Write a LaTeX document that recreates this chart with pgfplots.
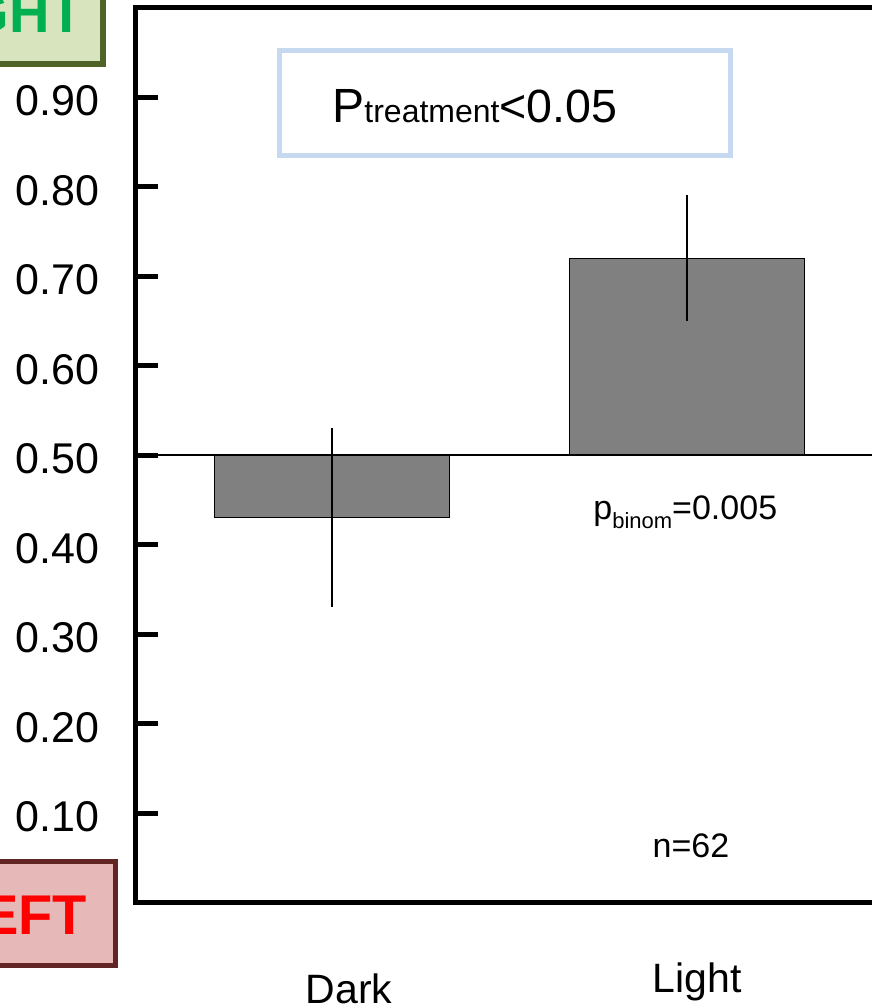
\documentclass[border=0pt]{standalone}
\usepackage{fontspec}
\setmainfont{Liberation Sans}
\usepackage{pgfplots}
\pgfplotsset{compat=1.18}
\definecolor{boxblue}{RGB}{198,217,240}
\definecolor{rightfill}{RGB}{215,228,189}
\definecolor{rightborder}{RGB}{79,98,40}
\definecolor{rightgreen}{RGB}{0,176,80}
\definecolor{leftfill}{RGB}{230,184,183}
\definecolor{leftborder}{RGB}{99,37,35}
\definecolor{leftred}{RGB}{255,0,0}
\definecolor{bargray}{RGB}{128,128,128}
\begin{document}
\begin{tikzpicture}[x=0.5pt,y=-0.5pt]
\useasboundingbox (0,0) rectangle (872,1007);
\begin{axis}[
  at={(68pt,-451.25pt)}, anchor=south west,
  scale only axis, width=373.5pt, height=447.5pt,
  xmin=-0.552, xmax=1.552, ymin=0, ymax=1,
  axis line style={line width=2.5pt, black},
  xtick={0,1},
  xticklabels={\hspace*{7pt}Dark,\raisebox{5.5pt}{Light}},
  xtick style={draw=none},
  xticklabel style={font=\fontsize{20.5}{22}\selectfont, inner sep=0pt, anchor=base, yshift=-50.25pt, xshift=5pt},
  ytick={0.1,0.2,0.3,0.4,0.5,0.6,0.7,0.8,0.9},
  ytick pos=left,
  tick align=inside,
  major tick length=11pt,
  ytick style={line width=2.5pt, black},
  yticklabel style={font=\fontsize{21.5}{22}\selectfont, inner sep=0pt, xshift=-18pt, yshift=-2pt,
    /pgf/number format/.cd, fixed, fixed zerofill, precision=2, assume math mode=true},
]
\addplot[fill=bargray, draw=black, line width=0.5pt] coordinates {(-0.332,0.5) (-0.332,0.43) (0.332,0.43) (0.332,0.5)} -- cycle;
\addplot[fill=bargray, draw=black, line width=0.5pt] coordinates {(0.668,0.5) (0.668,0.72) (1.332,0.72) (1.332,0.5)} -- cycle;
\addplot[black, line width=0.75pt] coordinates {(-0.552,0.5) (1.552,0.5)};
\addplot[draw=none, no markers, error bars/.cd, y dir=both, y explicit, error mark=none,
  error bar style={draw=black, line width=0.6pt}] coordinates {(0,0.43) +- (0,0.10) (1,0.72) +- (0,0.07)};
\end{axis}
\draw[draw=boxblue, line width=2.5pt] (279.5,50.5) rectangle (730.5,155.5);
\node[anchor=base west, inner sep=0pt] at (332,122) {\fontsize{24}{24}\selectfont P\fontsize{16}{16}\selectfont treatment\fontsize{23.3}{24}\selectfont <0.05};
\node[anchor=base west, inner sep=0pt] at (593,519) {\fontsize{17}{17}\selectfont p\raisebox{-4.5pt}{\fontsize{11}{11}\selectfont binom}=0.005};
\node[anchor=base, inner sep=0pt] at (691,857) {\fontsize{17}{17}\selectfont n=62};
\draw[fill=rightfill, draw=rightborder, line width=3pt] (-131,-38) rectangle (103,64);
\node[inner sep=0pt, text=rightgreen, font=\fontsize{28}{28}\selectfont\bfseries] at (-3,13) {RIGHT};
\draw[fill=leftfill, draw=leftborder, line width=2.5pt] (-81.5,861) rectangle (115.5,965.5);
\node[inner sep=0pt, text=leftred, font=\fontsize{28}{28}\selectfont\bfseries] at (17,915) {LEFT};
\end{tikzpicture}
\end{document}
